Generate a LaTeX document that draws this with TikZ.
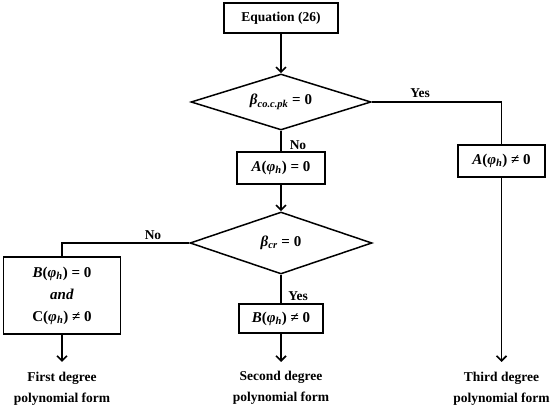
\documentclass[tikz,border=0pt]{standalone}
\usepackage{fontspec}
\setmainfont{Liberation Serif}
\usetikzlibrary{shapes.geometric,arrows.meta}
\newcommand{\vx}[1]{\textit{#1}}
\newcommand{\sbx}[1]{\textsubscript{\textit{#1}}}
\begin{document}
\begin{tikzpicture}[x=1pt,y=1pt,
  every node/.style={font=\fontsize{13.5}{21}\selectfont\bfseries},
  mathy/.style={font=\fontsize{15}{22}\selectfont\bfseries},
  box/.style={draw,line width=1.5pt,inner sep=2pt},
  dia/.style={diamond,draw,line width=1.5pt,inner sep=0pt,aspect=3},
  lbl/.style={inner sep=0pt},
  ln/.style={line width=1.6pt},
  arr/.style={line width=1.6pt,-{Straight Barb[length=5pt,width=10pt,line width=1.6pt]}},
  outtext/.style={align=center,inner sep=0pt}]
\useasboundingbox (0,0) rectangle (550,-409);
\node[box,minimum width=114pt,minimum height=30pt] (eq) at (281,-18) {Equation (26)};
\node[dia,mathy,minimum width=180pt,minimum height=56pt] (d1) at (281,-102) {\vx{β}\sbx{co.c.pk} = 0};
\node[box,mathy,minimum width=88pt,minimum height=32pt] (a0) at (281,-168) {\vx{A}(\vx{φ}\sbx{h}) = 0};
\node[dia,mathy,minimum width=182pt,minimum height=62pt] (d2) at (281,-243) {\vx{β}\sbx{cr} = 0};
\node[box,mathy,minimum width=117pt,minimum height=77pt,align=center] (b0) at (62,-295.5) {\vx{B}(\vx{φ}\sbx{h}) = 0\\\vx{and}\\C(\vx{φ}\sbx{h}) ≠ 0};
\node[box,mathy,minimum width=84pt,minimum height=29pt] (bn) at (281,-318.5) {\vx{B}(\vx{φ}\sbx{h}) ≠ 0};
\node[box,mathy,minimum width=87pt,minimum height=32pt] (an) at (501.5,-161) {\vx{A}(\vx{φ}\sbx{h}) ≠ 0};
\coordinate (e1) at (62,-362);
\coordinate (e2) at (281,-362);
\coordinate (e3) at (501.5,-362);
\node[outtext] (t1) at (62,-389) {First degree\\polynomial form};
\node[outtext] (t2) at (281,-388) {Second degree\\polynomial form};
\node[outtext] (t3) at (501.5,-389) {Third degree\\polynomial form};
\node[lbl] (l1) at (298,-145) {No};
\node[lbl] (l2) at (420,-93) {Yes};
\node[lbl] (l3) at (153,-235) {No};
\node[lbl] (l4) at (298,-296) {Yes};
\draw[arr] (eq) -- (d1);
\draw[ln] (d1) -- (a0);
\draw[arr] (a0) -- (d2);
\draw[ln] (d1.east) -| (an.north);
\draw[arr] (an) -- (e3);
\draw[ln] (d2.west) -| (b0.north);
\draw[arr] (b0) -- (e1);
\draw[ln] (d2) -- (bn);
\draw[arr] (bn) -- (e2);
\end{tikzpicture}
\end{document}
